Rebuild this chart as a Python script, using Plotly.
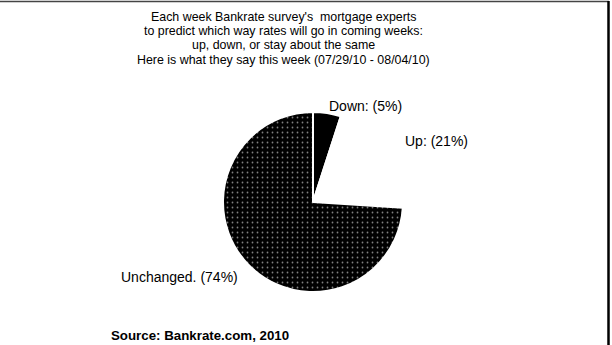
import plotly.graph_objects as go

W, H = 612, 345

categories = ["Down", "Up", "Unchanged"]
values = [5, 21, 74]
label_texts = ["Down: (5%)", "Up: (21%)", "Unchanged. (74%)"]
title_lines = [
    "Each week Bankrate survey's  mortgage experts",
    "to predict which way rates will go in coming weeks:",
    "up, down, or stay about the same",
    "Here is what they say this week (07/29/10 - 08/04/10)",
]
source_text = "Source: Bankrate.com, 2010"

FONT = "Liberation Sans, Arial, sans-serif"

def px(x):
    return x / W

def py(y):
    return 1 - y / H

cx, cy, r = 313, 202, 90

fig = go.Figure()
fig.add_trace(go.Pie(
    labels=categories,
    values=values,
    sort=False,
    direction="clockwise",
    rotation=0,
    textinfo="none",
    hoverinfo="label+percent",
    showlegend=False,
    marker=dict(
        colors=["#000000", "#ffffff", "#000000"],
        line=dict(color="white", width=2),
        pattern=dict(
            shape=["", "", "."],
            fillmode="overlay",
            fgcolor="white",
            size=5,
            solidity=0.1,
        ),
    ),
    domain=dict(x=[px(cx - r), px(cx + r)], y=[py(cy + r), py(cy - r)]),
))

annotations = []
title_y = [16.8, 31.1, 45.4, 59.7]
for t, yy in zip(title_lines, title_y):
    annotations.append(dict(text=t, x=px(283), y=py(yy), xref="paper", yref="paper",
                            xanchor="center", yanchor="middle", showarrow=False,
                            font=dict(family=FONT, size=12.4, color="black")))

label_pos = [(327, 106), (403, 141), (119, 277)]
for t, (lx, ly) in zip(label_texts, label_pos):
    annotations.append(dict(text=t, x=px(lx), y=py(ly), xref="paper", yref="paper",
                            xanchor="left", yanchor="middle", showarrow=False,
                            font=dict(family=FONT, size=14, color="black")))

annotations.append(dict(text="<b>" + source_text + "</b>", x=px(109), y=py(335),
                        xref="paper", yref="paper", xanchor="left", yanchor="middle",
                        showarrow=False, font=dict(family=FONT, size=13.3, color="black")))

shapes = [
    dict(type="line", xref="paper", yref="paper", x0=0, x1=px(609), y0=py(1.5), y1=py(1.5),
         line=dict(color="#444", width=1.5)),
    dict(type="line", xref="paper", yref="paper", x0=px(608.5), x1=px(608.5), y0=py(1), y1=py(345),
         line=dict(color="black", width=2.5)),
]

fig.update_layout(
    width=W, height=H,
    margin=dict(l=0, r=0, t=0, b=0),
    paper_bgcolor="white",
    plot_bgcolor="white",
    annotations=annotations,
    shapes=shapes,
)

fig.write_html(
    "out.html",
    config={"displayModeBar": False},
    post_script="document.body.style.margin='0';document.body.style.overflow='hidden';",
)
